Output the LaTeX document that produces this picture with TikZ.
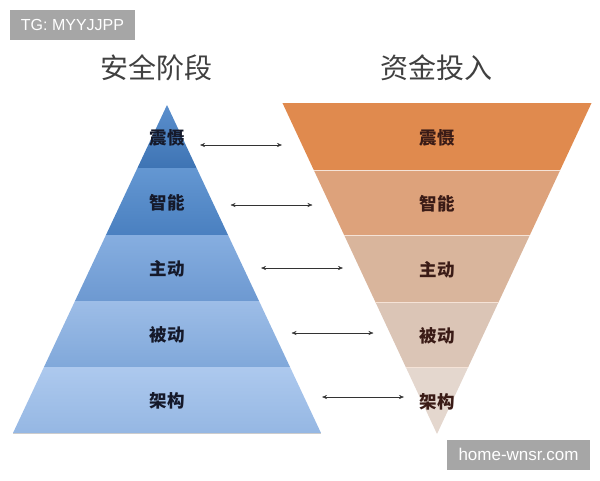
\documentclass[tikz,border=0pt]{standalone}
\usepackage{fontspec}
\setmainfont{Liberation Sans}
\newfontfamily\cjk{Noto Sans CJK SC}
\usepackage{xcolor}
\definecolor{stageTopA}{HTML}{5B8FCD}
\definecolor{stageBotA}{HTML}{3E74B4}
\definecolor{stageTopB}{HTML}{6497D2}
\definecolor{stageBotB}{HTML}{4A80C0}
\definecolor{stageTopC}{HTML}{86AEE0}
\definecolor{stageBotC}{HTML}{6D99D1}
\definecolor{stageTopD}{HTML}{9DBDE7}
\definecolor{stageBotD}{HTML}{80A8DA}
\definecolor{stageTopE}{HTML}{ADC9EE}
\definecolor{stageBotE}{HTML}{95B7E3}
\definecolor{fundA}{HTML}{E08A4E}
\definecolor{fundB}{HTML}{DDA27B}
\definecolor{fundC}{HTML}{D9B59C}
\definecolor{fundD}{HTML}{DBC5B6}
\definecolor{fundE}{HTML}{E4D7CE}
\definecolor{stageText}{HTML}{15192A}
\definecolor{fundText}{HTML}{3A1B16}
\definecolor{markGray}{HTML}{A6A6A6}
\usepackage{tikz}
\usetikzlibrary{arrows.meta,calc}
\tikzset{
    stagelabel/.style={
        font=\cjk\bfseries\fontsize{17.5}{17.5}\selectfont,
        text=stageText,
        inner sep=0pt
    },
    fundlabel/.style={
        font=\cjk\bfseries\fontsize{17.5}{17.5}\selectfont,
        text=fundText,
        inner sep=0pt
    },
    headline/.style={
        font=\cjk\fontsize{28}{28}\selectfont,
        text=black!75,
        inner sep=0pt
    },
    pairarrow/.style={
        {Stealth[length=5pt,width=4pt]}-{Stealth[length=5pt,width=4pt]},
        line width=0.4pt,
        color=black!80
    },
    watermark/.style={
        fill=markGray,
        text=white,
        inner sep=0pt,
        minimum height=30pt,
        text height=12pt
    }
}

\begin{document}
\begin{tikzpicture}[x=1pt,y=-1pt]
    \useasboundingbox (0,0) rectangle (600,480);
    % titles
    \node[headline] (stageTitle) at (156,68) {安全阶段};
    \node[headline] (fundTitle) at (436,68) {资金投入};
    % left pyramid, apex (167,105), base y=433
    \foreach \ya/\yb/\ct/\cb/\nm/\txt in {105/168/stageTopA/stageBotA/stageA/震慑,
        168/235/stageTopB/stageBotB/stageB/智能,
        235/301/stageTopC/stageBotC/stageC/主动,
        301/367/stageTopD/stageBotD/stageD/被动,
        367/433/stageTopE/stageBotE/stageE/架构} {
        \shade[top color=\ct, bottom color=\cb]
            ({167-(\ya-105)*0.4695},\ya) -- ({167+(\ya-105)*0.4695},\ya)
            -- ({167+(\yb-105)*0.4695},\yb) -- ({167-(\yb-105)*0.4695},\yb) -- cycle;
        \node[stagelabel] (\nm) at (167,{(\ya+\yb)/2+1}) {\txt};
    }
    \draw[black!20, line width=0.6pt] (13,433.5) -- (321,433.5);
    % right funnel, top y=103, apex (437,434)
    \foreach \ya/\yb/\cl/\nm/\txt in {103/170/fundA/fundA/震慑,
        170/235/fundB/fundB/智能,
        235/302/fundC/fundC/主动,
        302/367/fundD/fundD/被动,
        367/434/fundE/fundE/架构} {
        \fill[\cl] ({437-(434-\ya)*0.4668},\ya) -- ({437+(434-\ya)*0.4668},\ya)
            -- ({437+(434-\yb)*0.4668},\yb) -- ({437-(434-\yb)*0.4668},\yb) -- cycle;
        \node[fundlabel] (\nm) at (437,{(\ya+\yb)/2+1}) {\txt};
    }
    \foreach \y in {170,235,302,367}
        \draw[white!70!fundB, line width=0.8pt] ({437-(434-\y)*0.4668},\y) -- ({437+(434-\y)*0.4668},\y);
    % arrows between the two sides
    \foreach \i/\y in {1/145,2/205,3/268,4/333,5/397} {
        \coordinate (arrL\i) at ({200+30.5*(\i-1)},\y);
        \coordinate (arrR\i) at ({282+30.5*(\i-1)},\y);
        \draw[pairarrow] (arrL\i) -- (arrR\i);
    }
    % watermarks
    \node[watermark, minimum width=125pt, font=\fontsize{16}{16}\selectfont] (tagMark) at (72.5,25) {TG: MYYJJPP};
    \node[watermark, minimum width=143pt, font=\fontsize{17}{17}\selectfont] (siteMark) at (518.5,455) {home-wnsr.com};
\end{tikzpicture}
\end{document}
